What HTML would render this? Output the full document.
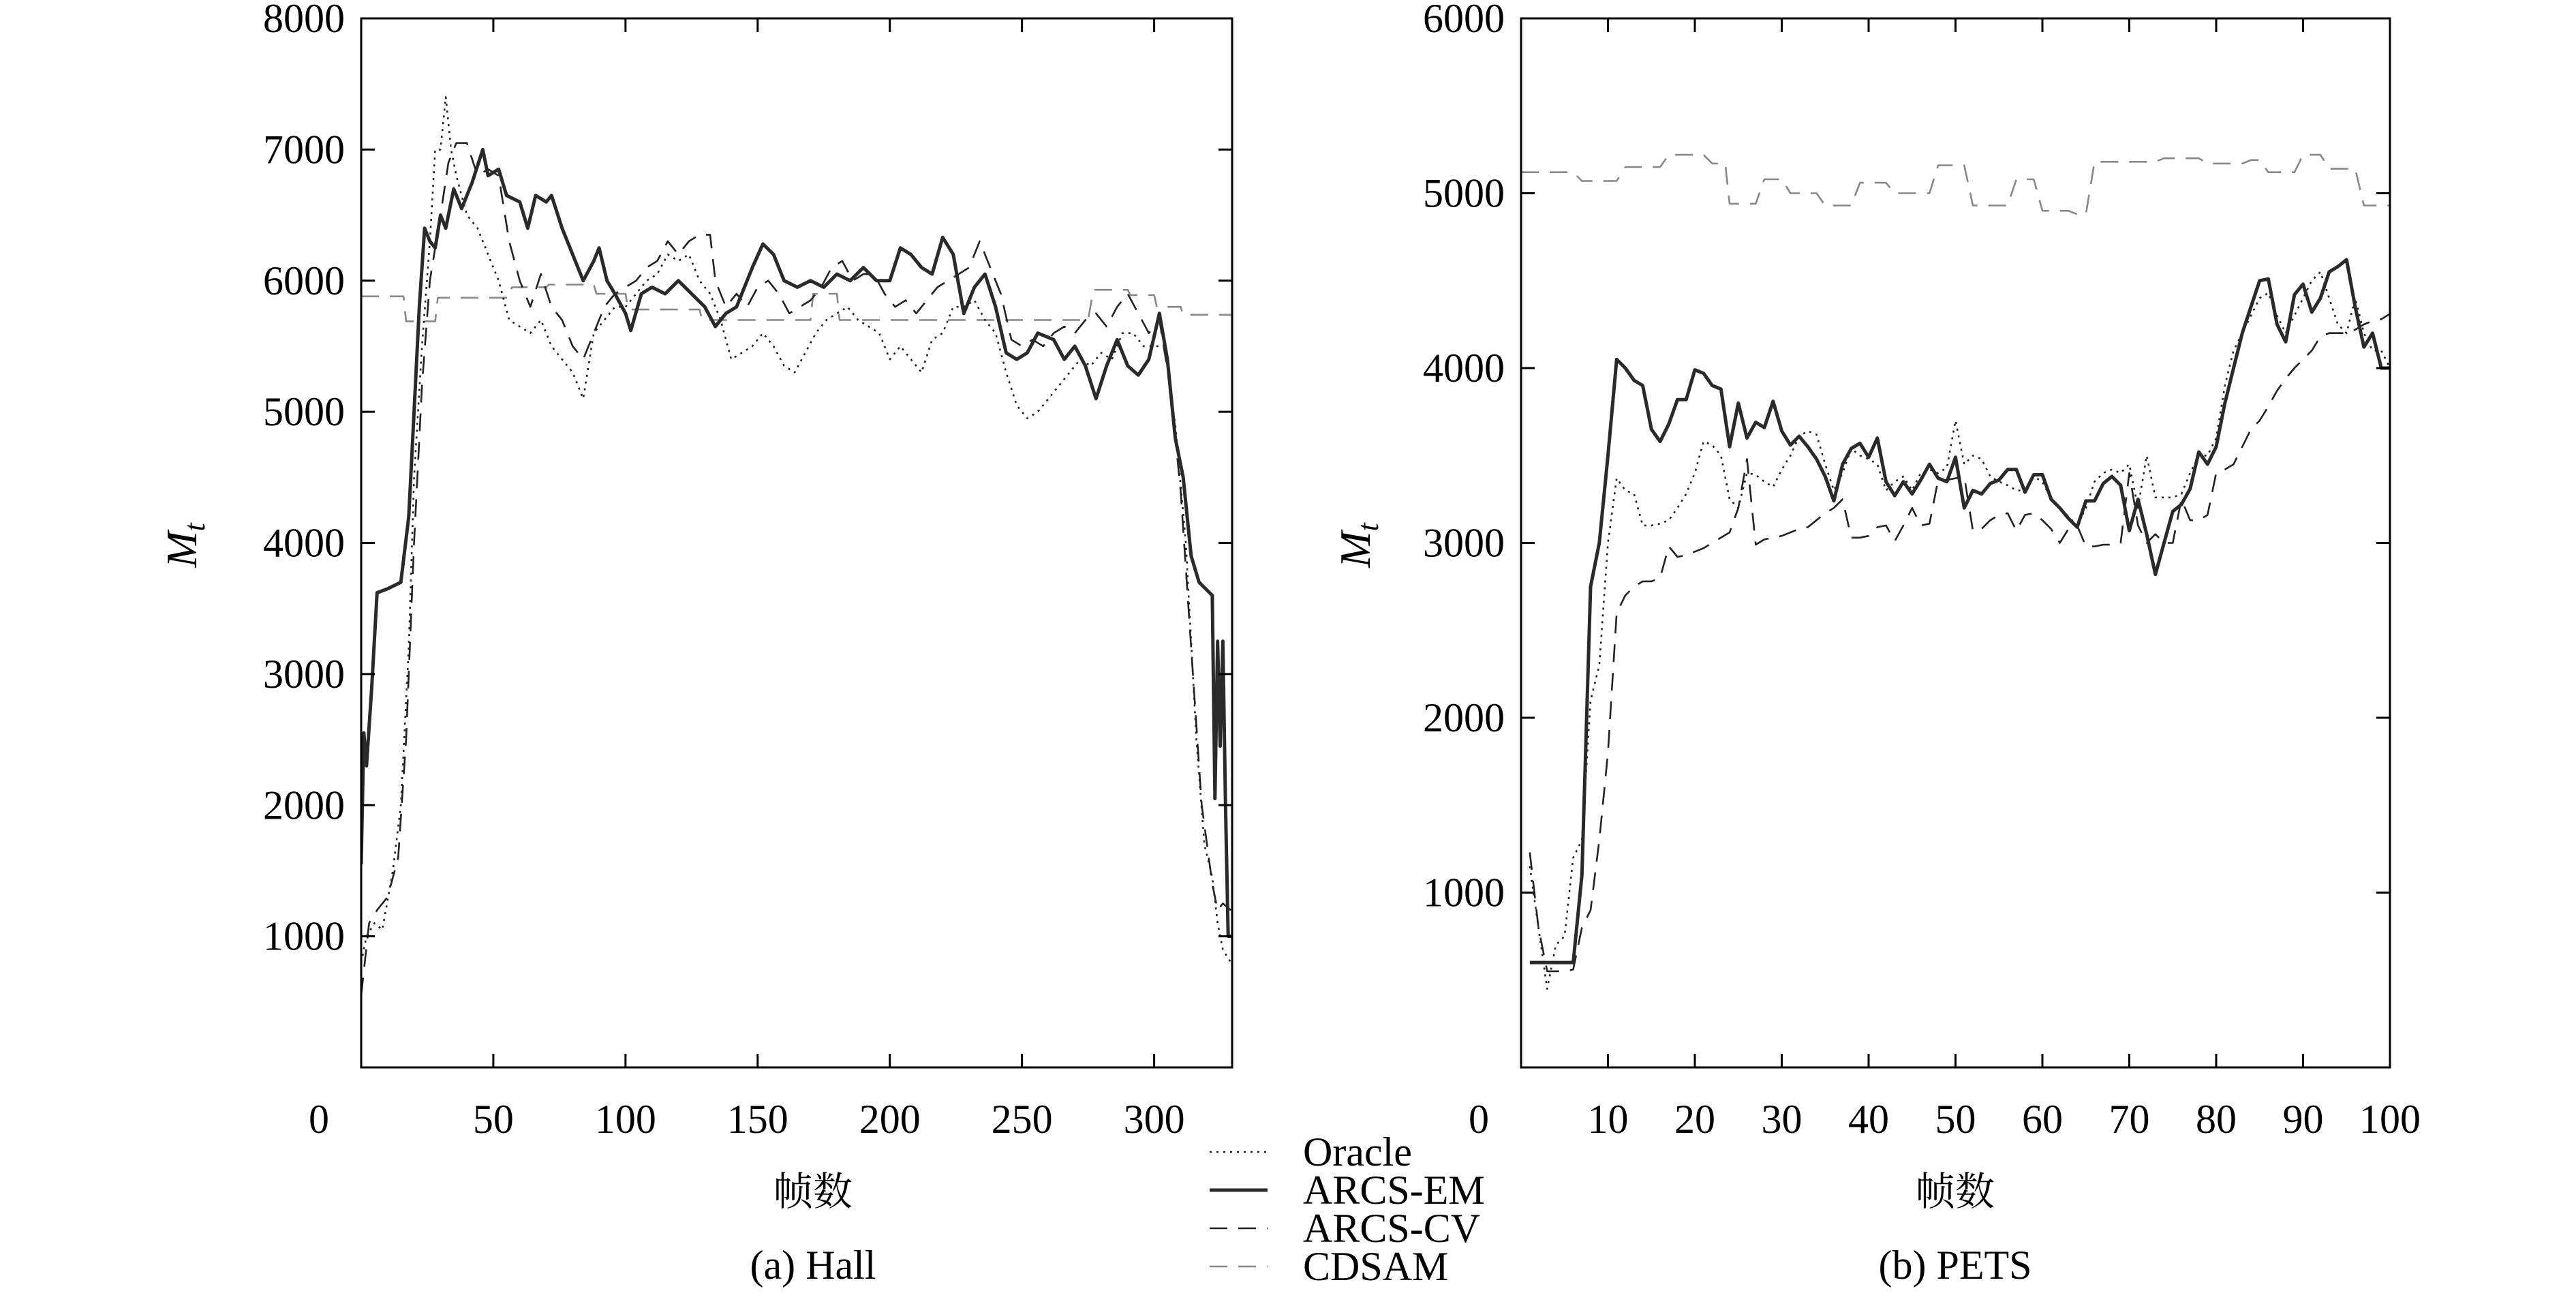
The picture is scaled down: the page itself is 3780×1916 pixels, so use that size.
<!DOCTYPE html>
<html><head><meta charset="utf-8"><style>
html,body{margin:0;padding:0;background:#fff;}
svg{display:block;font-family:"Liberation Serif","Noto Serif CJK SC","Noto Sans CJK SC",serif;}
</style></head><body>
<svg id="chart" width="3780" height="1916" viewBox="0 0 3780 1916" xmlns="http://www.w3.org/2000/svg"></svg>
<script>
// ---- Hall data ----
const hallEMx=[0,1,2,4,6,10,15,18,20,22,24,26,28,30,32,35,38,42,46,48,52,55,60,63,66,70,72,76,80,84,88,90,93,96,100,102,106,110,115,120,125,130,134,138,142,148,152,156,160,165,170,175,180,185,190,195,200,204,208,212,216,220,224,228,232,236,240,244,248,252,256,262,266,270,274,278,282,286,290,294,298,302,305,308,311,314,317,322,323,324,325,326,327,328,329.5];
const hallEMy=[1550,2550,2300,2900,3620,3650,3700,4200,5000,5800,6400,6300,6250,6500,6400,6700,6550,6750,7000,6800,6850,6650,6600,6400,6650,6600,6650,6400,6200,6000,6150,6250,6000,5900,5750,5620,5900,5950,5900,6000,5900,5800,5650,5750,5800,6100,6280,6200,6000,5950,6000,5950,6050,6000,6100,6000,6000,6250,6200,6100,6050,6330,6200,5750,5950,6050,5800,5450,5400,5450,5600,5550,5400,5500,5350,5100,5350,5550,5350,5280,5400,5750,5400,4800,4500,3900,3700,3600,2050,3250,2450,3250,2000,1000,1000];
const hallORx=[0,2,5,8,12,15,18,20,23,26,28,30,32,34,36,40,44,48,52,56,60,64,68,72,76,80,84,88,92,96,100,104,108,112,116,120,124,128,132,136,140,144,148,152,156,160,164,168,172,176,180,184,188,192,196,200,204,208,212,216,220,224,228,232,236,240,244,248,252,256,260,264,268,272,276,280,284,288,292,296,300,304,308,312,316,319,322,324,326,329];
const hallORy=[800,1000,1100,1050,1500,2000,3200,4500,5500,6300,7000,7000,7400,7000,6800,6500,6400,6200,6000,5700,5650,5600,5700,5500,5400,5300,5100,5600,5700,5800,5800,5900,6000,6050,6200,6150,6200,6000,5900,5700,5400,5450,5500,5600,5500,5350,5300,5450,5600,5700,5750,5800,5700,5650,5600,5400,5500,5400,5300,5550,5600,5800,5800,5850,5700,5600,5300,5050,4950,5000,5100,5200,5300,5400,5350,5450,5400,5600,5600,5500,5500,5500,4900,4000,2500,1700,1450,1100,900,800];
const hallCVx=[0,3,6,10,14,17,20,23,26,30,33,36,40,44,48,52,56,60,64,68,72,76,80,84,88,92,96,100,104,108,112,116,120,124,128,132,134,138,142,146,150,154,158,162,166,170,174,178,182,186,190,194,198,202,206,210,214,218,222,226,230,234,238,242,246,250,254,258,262,266,270,274,278,282,286,290,294,298,302,306,310,314,318,322,324,326,329];
const hallCVy=[550,1100,1200,1300,1600,2500,4000,5200,6000,6500,6900,7050,7050,6800,6850,6800,6300,6000,5800,6050,5800,5700,5500,5400,5600,5800,5900,5950,6000,6100,6150,6300,6200,6300,6350,6350,6000,5800,5900,5800,5950,6000,5900,5750,5800,5850,5950,6100,6150,6000,6050,6050,5900,5800,5850,5750,5850,5950,6000,6050,6100,6300,6100,5900,5550,5500,5550,5500,5600,5650,5600,5700,5750,5650,5800,5900,5750,5600,5700,5200,4400,3200,2000,1400,1200,1250,1200];
const hallCDx=[0,16,17,28,29,56,57,70,71,88,89,100,101,128,129,170,171,180,181,275,277,290,291,300,301,310,311,329.5];
const hallCDy=[5880,5880,5690,5690,5870,5870,5950,5950,5970,5970,5900,5900,5780,5780,5700,5700,5900,5900,5700,5700,5930,5930,5890,5890,5800,5800,5740,5740];
// ---- PETS data ----
const petsEMx=[1,6,7,8,9,10,11,12,13,14,15,16,17,18,19,20,21,22,23,24,25,26,27,28,29,30,31,32,33,34,35,36,37,38,39,40,41,42,43,44,45,46,47,48,49,50,51,52,53,54,55,56,57,58,59,60,61,62,63,64,65,66,67,68,69,70,71,72,73,74,75,76,77,78,79,80,81,82,83,84,85,86,87,88,89,90,91,92,93,94,95,96,97,98,99,100];
const petsEMy=[600,600,1100,2750,3000,3500,4050,4000,3930,3900,3650,3580,3680,3820,3820,3990,3970,3900,3880,3550,3800,3600,3690,3660,3810,3640,3560,3610,3550,3480,3380,3240,3450,3540,3570,3490,3600,3350,3270,3350,3280,3360,3450,3370,3350,3490,3200,3300,3280,3340,3360,3420,3420,3290,3390,3390,3250,3200,3140,3090,3240,3240,3340,3380,3330,3070,3250,3050,2820,3000,3180,3220,3310,3520,3450,3550,3800,4000,4200,4350,4500,4510,4250,4150,4420,4480,4320,4400,4550,4580,4620,4350,4120,4200,4000,4000];
const petsORx=[1,2,3,4,5,6,7,8,9,10,11,12,13,14,15,16,17,18,19,20,21,22,23,24,25,26,27,28,29,30,31,32,33,34,35,36,37,38,39,40,41,42,43,44,45,46,47,48,49,50,51,52,53,54,55,56,57,58,59,60,61,62,63,64,65,66,67,68,69,70,71,72,73,74,75,76,77,78,79,80,81,82,83,84,85,86,87,88,89,90,91,92,93,94,95,96,97,98,99,100];
const petsORy=[1150,800,450,700,750,1200,1300,2100,2300,3000,3370,3300,3280,3100,3100,3110,3130,3200,3280,3400,3580,3560,3500,3250,3200,3400,3390,3350,3320,3420,3500,3610,3640,3620,3450,3300,3400,3540,3500,3480,3450,3300,3350,3380,3300,3400,3420,3400,3430,3700,3450,3500,3480,3380,3350,3330,3300,3300,3380,3350,3250,3200,3150,3100,3200,3350,3400,3420,3400,3450,3200,3500,3260,3260,3260,3280,3400,3500,3500,3600,3900,4100,4200,4300,4400,4430,4300,4200,4300,4400,4500,4550,4400,4250,4200,4400,4200,4100,4100,4000];
const petsCVx=petsORx;
const petsCVy=[1230,800,550,550,550,560,800,900,1300,1800,2600,2700,2750,2780,2780,2800,2980,2920,2930,2950,2970,3000,3030,3060,3200,3480,2990,3020,3030,3040,3060,3080,3090,3130,3170,3200,3250,3030,3030,3040,3090,3100,3010,3100,3200,3100,3110,3360,3360,3370,3380,3070,3080,3130,3160,3170,3070,3160,3170,3130,3080,3000,3080,3100,2980,2980,2990,2990,3000,3400,3100,3000,3050,3000,3000,3250,3130,3130,3160,3400,3420,3450,3550,3650,3700,3780,3870,3940,4000,4050,4100,4180,4200,4200,4200,4220,4250,4270,4280,4310];
const petsCDx=[0,6,7,11,12,16,17,21,22,23.5,24,27,28,30,31,34,35,38,39,42,43,47,48,51,52,56,57,59,60,63,64,65,66,73,74,78,79,83,84,85,86,89,90,92,93,96,97,100];
const petsCDy=[5120,5120,5070,5070,5150,5150,5220,5220,5170,5170,4940,4940,5080,5080,5000,5000,4930,4930,5060,5060,5000,5000,5160,5160,4930,4930,5080,5080,4900,4900,4880,4880,5180,5180,5200,5200,5170,5170,5190,5190,5120,5120,5220,5220,5140,5140,4930,4930];
const hallYTicks=[1000,2000,3000,4000,5000,6000,7000,8000];
const hallXTicks=[50,100,150,200,250,300];
const petsYTicks=[1000,2000,3000,4000,5000,6000];
const petsXTicks=[10,20,30,40,50,60,70,80,90,100];
const legendLabels=["Oracle","ARCS-EM","ARCS-CV","CDSAM"];

const NS="http://www.w3.org/2000/svg";
const svg=document.getElementById('chart');
function mk(tag,attrs,parent){const e=document.createElementNS(NS,tag);for(const k in attrs)e.setAttribute(k,attrs[k]);(parent||svg).appendChild(e);return e;}
const styles={
 oracle:{stroke:"#222","stroke-width":2.6,"stroke-dasharray":"3,7"},
 em:{stroke:"#2a2a2a","stroke-width":5},
 cv:{stroke:"#222","stroke-width":2.6,"stroke-dasharray":"26,16"},
 cd:{stroke:"#888","stroke-width":2.6,"stroke-dasharray":"26,16"}
};
function panel(name,L,R,T,B,xmax,ymax,xt,yt,series,labelX,yLabelX,caption){
 const g=mk('g',{});
 
 
 const sx=v=>L+(R-L)*v/xmax, sy=v=>B-(B-T)*v/ymax;
 const clipId=name+'-clip';
 const cp=mk('clipPath',{id:clipId},g);mk('rect',{x:L,y:T,width:R-L,height:B-T},cp);
 series.forEach(s=>{
  const pts=s.x.map((x,i)=>sx(x).toFixed(1)+","+sy(s.y[i]).toFixed(1)).join(" ");
  const p=mk('polyline',Object.assign({points:pts,fill:"none","clip-path":"url(#"+clipId+")","stroke-linejoin":"round"},styles[s.st]),g);
  
  
 });
 const fr=mk('rect',{x:L,y:T,width:R-L,height:B-T,fill:"none",stroke:"#000","stroke-width":3},g);
 
 
 yt.forEach(v=>{const y=sy(v);
  mk('line',{x1:L,x2:L+20,y1:y,y2:y,stroke:"#000","stroke-width":3},g);
  mk('line',{x1:R,x2:R-20,y1:y,y2:y,stroke:"#000","stroke-width":3},g);
  const t=mk('text',{x:L-24,y:y+20,"text-anchor":"end","font-size":60},g);t.textContent=v;
  
  
 });
 xt.forEach(v=>{const x=sx(v);
  mk('line',{x1:x,x2:x,y1:B,y2:B-20,stroke:"#000","stroke-width":3},g);
  mk('line',{x1:x,x2:x,y1:T,y2:T+20,stroke:"#000","stroke-width":3},g);
  const t=mk('text',{x:x,y:1662,"text-anchor":"middle","font-size":60},g);t.textContent=v;
  
  
 });
 const z=mk('text',{x:L-62,y:1662,"text-anchor":"middle","font-size":60},g);z.textContent="0";
 
 
 const yl=mk('text',{x:yLabelX,y:820,"font-size":64,"font-style":"italic",transform:"rotate(-90 "+yLabelX+" 800)","text-anchor":"middle"},g);
 yl.innerHTML='M<tspan font-size="44" dy="12">t</tspan>';
 
 
 const xl=mk('text',{x:labelX,y:1768,"text-anchor":"middle","font-size":58},g);xl.textContent="帧数";
 
 
 const c=mk('text',{x:labelX,y:1876,"text-anchor":"middle","font-size":60},g);c.textContent=caption;
 
 
}
panel('hall',530,1808,27,1566,329.5,8000,hallXTicks,hallYTicks,[
 {n:'cdsam',st:'cd',x:hallCDx,y:hallCDy},{n:'oracle',st:'oracle',x:hallORx,y:hallORy},
 {n:'arcs-cv',st:'cv',x:hallCVx,y:hallCVy},{n:'arcs-em',st:'em',x:hallEMx,y:hallEMy}],
 1193,268,"(a) Hall");
panel('pets',2232,3507,27,1566,100,6000,petsXTicks,petsYTicks,[
 {n:'cdsam',st:'cd',x:petsCDx,y:petsCDy},{n:'oracle',st:'oracle',x:petsORx,y:petsORy},
 {n:'arcs-cv',st:'cv',x:petsCVx,y:petsCVy},{n:'arcs-em',st:'em',x:petsEMx,y:petsEMy}],
 2869,1990,"(b) PETS");
// legend
const lg=mk('g',{});


const lst=['oracle','em','cv','cd'];
legendLabels.forEach((lab,i)=>{
 const y=1690+i*56;
 const ln=mk('line',Object.assign({x1:1775,x2:1860,y1:y,y2:y},styles[lst[i]]),lg);
 
 
 const t=mk('text',{x:1912,y:y+20,"font-size":60},lg);t.textContent=lab;
 
 
});
</script>
</body></html>
